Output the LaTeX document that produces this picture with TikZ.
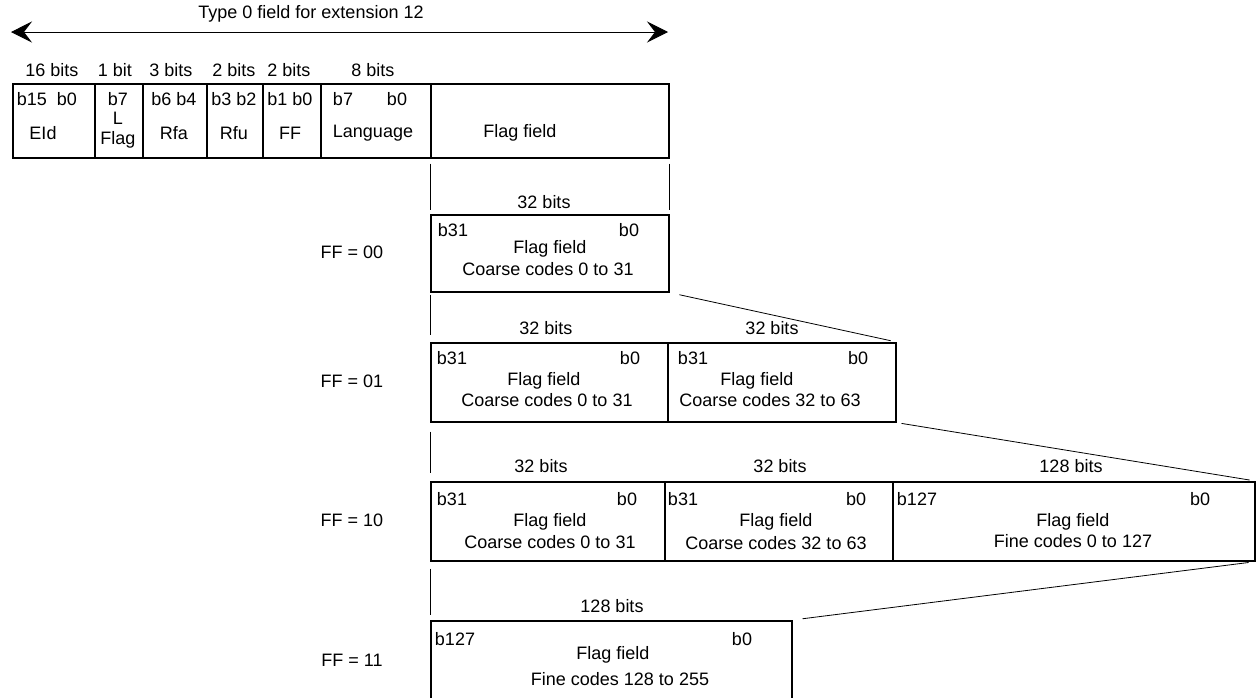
\documentclass[tikz,border=0pt]{standalone}
\usepackage{fontspec}
\setmainfont{Liberation Sans}
\usetikzlibrary{arrows.meta,positioning,calc}

\begin{document}
\begin{tikzpicture}[x=1pt, y=-1pt,
    font=\fontsize{18}{21}\selectfont,
    field/.style={draw, line width=1.6pt, anchor=north west, inner sep=0pt},
    proj/.style={line width=0.8pt},
    lbl/.style={inner sep=0pt}]
    \clip (0,0) rectangle (1258,697);

    % Title arrow
    \coordinate (tl) at (11,32);
    \coordinate (tr) at (668,32);
    \draw[line width=0.8pt, {Stealth[length=21pt,width=21pt,inset=8pt]}-{Stealth[length=21pt,width=21pt,inset=8pt]}] (tl) -- (tr);
    \node[lbl] (title) at (311,14) {Type 0 field for extension 12};

    % Header fields
    \foreach \n/\xa/\xb in {eid/12/94, lflag/94/142, rfa/142/206, rfu/206/262, ff/262/320, lang/320/430, flagf/430/668} {
        \node[field, minimum width={\xb-\xa}, minimum height=74] (\n) at (\xa,83) {};
    }
    \foreach \n/\x/\t in {a/52/16 bits, b/115/1 bit, c/171/3 bits, d/234/2 bits, e/289/2 bits, f/373/8 bits} {
        \node[lbl] (w\n) at (\x,70) {\t};
    }
    \foreach \n/\x/\t in {a/47/b15\ \ b0, b/118/b7, c/174/b6 b4, d/234/b3 b2, e/290/b1 b0, f/343/b7, g/397/b0} {
        \node[lbl] (h\n) at (\x,99) {\t};
    }
    \node[lbl] (lL) at (118,118) {L};
    \node[lbl] (lflagtxt) at (118,140) {Flag};
    \foreach \n/\x/\t in {eidtxt/43/EId, rfatxt/174/Rfa, rfutxt/234/Rfu, fftxt/290/FF, langtxt/373/Language, flagftxt/520/Flag field} {
        \node[lbl] (\n) at (\x,133) {\t};
    }

    % FF = 00
    \node[field, minimum width=238, minimum height=77] (r1a) at (430,214) {};
    \node[lbl] (ff00) at (352,252) {FF = 00};
    \node[lbl] (r1w) at (544,202) {32 bits};
    \node[lbl] (r1l) at (453,230) {b31};
    \node[lbl] (r1r) at (629,230) {b0};
    \node[lbl] (r1f) at (550,249) {Flag field};
    \node[lbl] (r1c) at (548,269) {Coarse codes 0 to 31};

    % FF = 01
    \node[field, minimum width=237, minimum height=79] (r2a) at (430,342) {};
    \node[field, minimum width=228, minimum height=79] (r2b) at (667,342) {};
    \node[lbl] (ff01) at (352,381) {FF = 01};
    \foreach \n/\x/\t in {a/546/32 bits, b/772/32 bits} {
        \node[lbl] (r2w\n) at (\x,328) {\t};
    }
    \foreach \n/\x/\t in {a/452/b31, b/630/b0, c/693/b31, d/858/b0} {
        \node[lbl] (r2h\n) at (\x,358) {\t};
    }
    \node[lbl] (r2fa) at (544,381) {Flag field};
    \node[lbl] (r2fb) at (757,381) {Flag field};
    \node[lbl] (r2ca) at (547,400) {Coarse codes 0 to 31};
    \node[lbl] (r2cb) at (770,400) {Coarse codes 32 to 63};

    % FF = 10
    \node[field, minimum width=234, minimum height=79] (r3a) at (430,481) {};
    \node[field, minimum width=228, minimum height=79] (r3b) at (664,481) {};
    \node[field, minimum width=362, minimum height=79] (r3c) at (892,481) {};
    \node[lbl] (ff10) at (352,520) {FF = 10};
    \foreach \n/\x/\t in {a/541/32 bits, b/780/32 bits, c/1071/128 bits} {
        \node[lbl] (r3w\n) at (\x,466) {\t};
    }
    \foreach \n/\x/\t in {a/452/b31, b/627/b0, c/683/b31, d/856/b0, e/917/b127, f/1200/b0} {
        \node[lbl] (r3h\n) at (\x,499) {\t};
    }
    \foreach \n/\x in {a/550, b/776, c/1073} {
        \node[lbl] (r3f\n) at (\x,522) {Flag field};
    }
    \node[lbl] (r3ca) at (550,542) {Coarse codes 0 to 31};
    \node[lbl] (r3cb) at (776,543) {Coarse codes 32 to 63};
    \node[lbl] (r3cc) at (1073,541) {Fine codes 0 to 127};

    % FF = 11
    \node[field, minimum width=361, minimum height=100] (r4a) at (430,620) {};
    \node[lbl] (ff11) at (352,660) {FF = 11};
    \node[lbl] (r4w) at (612,606) {128 bits};
    \node[lbl] (r4l) at (455,639) {b127};
    \node[lbl] (r4r) at (742,639) {b0};
    \node[lbl] (r4f) at (613,655) {Flag field};
    \node[lbl] (r4c) at (620,679) {Fine codes 128 to 255};

    % Projection lines
    \draw[proj, shorten <=5pt, shorten >=4pt] (flagf.south west) -- (r1a.north west);
    \draw[proj, shorten <=5pt, shorten >=4pt] (flagf.south east) -- (r1a.north east);
    \draw[proj, shorten <=2pt, shorten >=7pt] (r1a.south west) -- (r2a.north west);
    \draw[proj, shorten <=10pt, shorten >=6pt] (r1a.south east) -- (r2b.north east);
    \draw[proj, shorten <=9pt, shorten >=8pt] (r2a.south west) -- (r3a.north west);
    \draw[proj, shorten <=5pt, shorten >=6pt] (r2b.south east) -- (r3c.north east);
    \draw[proj, shorten <=7pt, shorten >=5pt] (r3a.south west) -- (r4a.north west);
    \draw[proj, shorten <=7pt, shorten >=10pt] (r3c.south east) -- (r4a.north east);
\end{tikzpicture}
\end{document}
